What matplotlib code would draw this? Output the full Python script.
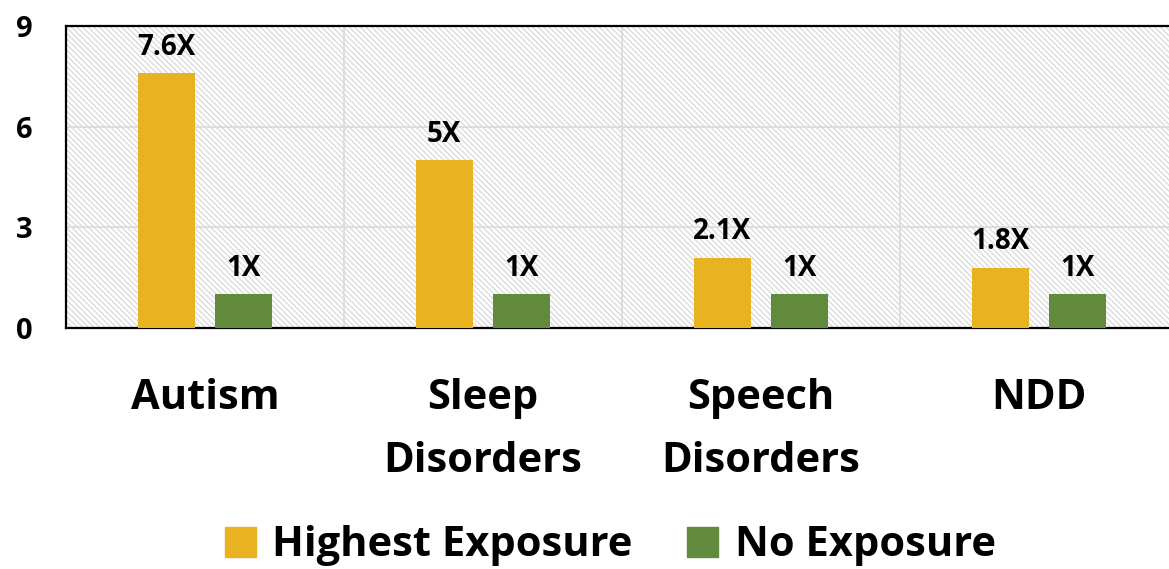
import numpy as np
import matplotlib
matplotlib.use("Agg")
import matplotlib.pyplot as plt
from matplotlib.patches import Rectangle, Patch

categories = ["Autism", "Sleep\nDisorders", "Speech\nDisorders", "NDD"]
highest = [7.6, 5.0, 2.1, 1.8]
none_exp = [1.0, 1.0, 1.0, 1.0]
high_labels = ["7.6X", "5X", "2.1X", "1.8X"]
none_labels = ["1X", "1X", "1X", "1X"]
yticks = [0, 3, 6, 9]

YELLOW = "#E9B220"
GREEN = "#628A3C"

plt.rcParams["font.family"] = ["Open Sans", "DejaVu Sans"]
plt.rcParams["font.weight"] = "bold"
plt.rcParams["hatch.color"] = "#dcdcdc"
plt.rcParams["hatch.linewidth"] = 1.0

fig = plt.figure(figsize=(11.69, 5.69), dpi=100)
W, H = 1169, 569
ax = fig.add_axes([66 / W, 1 - 328 / H, (1169 - 66) / W, (328 - 26) / H])

# hatched plot background
ax.add_patch(Rectangle((0, 0), 1, 1, transform=ax.transAxes, facecolor="white",
                       edgecolor="#dcdcdc", hatch="\\\\\\\\\\\\", lw=0, zorder=0))

x = np.arange(len(categories))
w = 0.205
off = 0.14
b1 = ax.bar(x - off, highest, w, color=YELLOW, zorder=3)
b2 = ax.bar(x + off, none_exp, w, color=GREEN, zorder=3)

for bars, labels in [(b1, high_labels), (b2, none_labels)]:
    for rect, lab in zip(bars, labels):
        ax.annotate(lab, (rect.get_x() + rect.get_width() / 2, rect.get_height()),
                    xytext=(0, 8), textcoords="offset points", ha="center", va="bottom",
                    fontsize=20, fontweight="bold", zorder=4)

ax.set_ylim(0, 9)
ax.set_xlim(-0.5, 3.5 - 9 / 278)
ax.set_yticks(yticks)
ax.set_yticklabels([str(v) for v in yticks], fontsize=21, fontweight="bold")
ax.tick_params(axis="y", length=0, pad=24)

ax.set_xticks(x)
ax.set_xticklabels(categories, fontsize=30, fontweight="bold", linespacing=1.7)
ax.tick_params(axis="x", length=0, pad=36)

# grid: horizontal at ticks, vertical at category boundaries
for v in [3, 6]:
    ax.axhline(v, color="#d9d9d9", lw=1.2, zorder=1)
for b in [0.5, 1.5, 2.5]:
    ax.axvline(b, color="#d9d9d9", lw=1.2, zorder=1)

ax.spines["right"].set_visible(False)
for s in ["top", "bottom", "left"]:
    ax.spines[s].set_color("black")
    ax.spines[s].set_linewidth(1.6)

handles = [Patch(color=YELLOW, label="Highest Exposure"),
           Patch(color=GREEN, label="No Exposure")]
fig.legend(handles=handles, loc="center", bbox_to_anchor=(0.522, 1 - 546 / H), ncol=2,
           frameon=False, prop={"size": 30, "weight": "bold"},
           handlelength=0.75, handleheight=0.75, handletextpad=0.4, columnspacing=1.3)

fig.savefig("out.png", dpi=100)
